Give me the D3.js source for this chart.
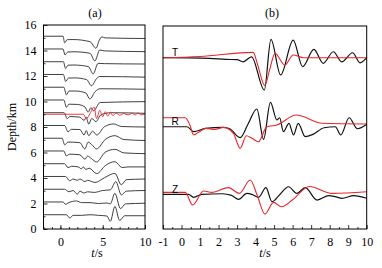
<!DOCTYPE html>
<html>
<head>
<meta charset="utf-8">
<script src="https://cdn.jsdelivr.net/npm/d3@7"></script>
<style>
  body { margin: 0; background: #fff; }
  svg { display: block; }
</style>
</head>
<body>
<script>
// sizes
const width = 382;
const height = 268;

// ---- panel (a) data: depth of each trace and [t, amplitude in km] samples
const depthsA = [1, 2, 3, 4, 5, 6, 7, 8, 9, 10, 11, 12, 13, 14, 15];
const trace01 = [[-2,0],[0.7,0],[1.1,-0.26],[1.5,-0.05],[2.5,-0.05],[3.5,0],[4.5,-0.05],[5.5,-0.1],[5.9,-0.52],[6.44,0.65],[7.0,-0.45],[7.6,-0.08],[10,-0.08]];
const trace02 = [[-2,0],[0.3,0],[0.6,-0.18],[1.0,-0.05],[1.9,0.08],[2.5,-0.05],[3.5,-0.05],[4.5,-0.12],[5.5,-0.08],[5.9,-0.15],[6.44,0.68],[7.1,-0.52],[7.7,-0.15],[10,-0.1]];
const trace03 = [[-2,0],[0.5,0],[1.0,-0.2],[1.5,-0.1],[2.0,-0.39],[2.3,-0.15],[2.8,-0.3],[3.2,-0.2],[4.0,-0.25],[5.0,-0.1],[5.9,-0.05],[6.55,0.6],[7.2,-0.45],[7.8,-0.15],[10,-0.1]];
const trace04 = [[-2,0],[0.6,0],[1.1,-0.34],[1.5,-0.2],[2.0,-0.3],[2.3,-0.2],[2.9,-0.4],[3.2,-0.3],[4.1,-0.47],[5.2,-0.1],[6.44,0.24],[7.2,-0.65],[7.8,-0.25],[10,-0.2]];
const trace05 = [[-2,0],[0.5,0],[0.9,-0.31],[1.3,-0.2],[2.1,-0.25],[2.5,-0.4],[2.7,-0.25],[3.0,-0.45],[3.4,-0.35],[4.3,-0.78],[5.3,-0.15],[6.44,0.16],[7.3,-0.3],[8,-0.25],[10,-0.25]];
const trace06 = [[-2,0],[0.4,0],[0.71,-0.39],[1.1,-0.25],[2.3,-0.3],[2.9,-0.65],[3.2,-0.4],[3.67,-0.6],[4.27,-0.86],[5.3,-0.1],[6.44,0.13],[7.5,-0.15],[10,-0.21]];
const trace07 = [[-2,0],[0.2,0],[0.5,-0.52],[0.9,-0.3],[2.3,-0.35],[2.88,-0.84],[3.28,-0.31],[3.7,-0.5],[4.27,-0.84],[5.3,-0.1],[6.44,0.2],[7.5,-0.1],[10,-0.18]];
const trace08 = [[-2,0],[0.5,0],[0.9,-0.5],[1.3,-0.3],[2.3,-0.32],[2.8,-0.75],[3.05,-0.4],[3.35,-0.8],[3.8,-0.45],[4.3,-0.75],[5.2,-0.1],[6.3,0.12],[7.2,-0.08],[10,-0.12]];
const trace09 = [[-2,0],[0.45,0],[0.8,-0.47],[1.1,-0.3],[2.3,-0.35],[2.8,-0.6],[3.05,-0.35],[3.35,-0.9],[3.7,-0.45],[4.2,-0.7],[4.8,-0.15],[6,0],[10,-0.05]];
const trace10 = [[-2,0],[0.4,0],[0.71,-0.57],[1.0,-0.33],[2.0,-0.35],[2.9,-0.55],[3.28,-0.96],[3.6,-0.6],[3.9,-0.85],[4.7,-0.2],[10,-0.13]];
const trace11 = [[-2,0],[0.4,0],[0.71,-0.6],[1.0,-0.3],[1.8,-0.3],[3.0,-0.45],[3.48,-0.92],[4.1,-0.35],[4.7,-0.12],[10,-0.16]];
const trace12 = [[-2,0],[0.35,0],[0.62,-0.55],[0.95,-0.28],[1.7,-0.27],[3.1,-0.4],[3.67,-0.89],[4.3,-0.3],[4.66,-0.16],[10,-0.21]];
const trace13 = [[-2,0],[0.35,0],[0.6,-0.52],[0.9,-0.27],[1.6,-0.26],[3.3,-0.38],[3.87,-0.96],[4.46,-0.13],[5.2,-0.15],[10,-0.18]];
const trace14 = [[-2,0],[0.3,0],[0.55,-0.47],[0.85,-0.24],[1.6,-0.22],[3.5,-0.34],[4.07,-0.94],[4.66,-0.08],[5.2,-0.15],[10,-0.21]];
const trace15 = [[-2,0],[0.3,0],[0.5,-0.51],[0.8,-0.27],[1.5,-0.26],[3.5,-0.43],[4.2,-0.94],[4.6,-0.31],[4.9,-0.05],[5.3,-0.13],[10,-0.18]];
const redDepth = 9;
const redTrace9 = [[-2,0],[2.7,0],[3.08,-0.34],[3.5,0.05],[3.99,0.57],[4.27,-0.34],[4.66,0.31],[5.0,-0.2],[5.3,0.2],[5.6,-0.15],[5.9,0.15],[6.2,-0.1],[6.6,0.08],[7.0,-0.08],[7.5,0.05],[8.0,-0.05],[8.5,0.08],[8.8,-0.06],[9.2,0.1],[9.5,-0.05],[10,0.02]];

// ---- panel (b) data: [t, value] for T, R, Z components
const tBlack = [[-1,13.5],[1.5,13.45],[2.4,13.37],[3.0,13.35],[3.33,13.18],[3.78,13.57],[4.47,10.95],[4.83,14.95],[5.35,12.14],[6.03,14.89],[6.54,12.79],[7.15,14.16],[7.65,13.06],[8.2,13.97],[8.65,13.18],[9.24,13.89],[9.64,13.1],[10,13.5]];
const tRed = [[-1,13.5],[1,13.6],[3.87,13.92],[4.1,13.0],[4.5,11.3],[4.75,12.5],[5.05,13.84],[5.58,12.92],[6.03,13.71],[6.6,13.5],[10,13.5]];
const rBlack = [[-1,8.06],[0.3,8.06],[0.65,7.67],[1.3,7.93],[2.2,8.01],[2.6,7.9],[3.17,7.2],[3.6,8.3],[4.07,9.46],[4.43,7.07],[4.8,9.98],[5.15,8.59],[5.3,8.77],[5.5,7.67],[5.8,8.33],[6.05,7.41],[6.3,8.33],[6.68,7.28],[7.1,7.46],[7.7,7.98],[8.3,8.06],[8.6,7.41],[9.05,8.77],[9.5,7.9],[10,8.25]];
const rRed = [[-1,8.77],[0.2,8.77],[0.45,8.2],[0.65,7.41],[0.95,7.65],[1.3,7.93],[1.8,7.85],[2.27,8.01],[2.8,7.54],[3.17,6.36],[3.5,7.35],[3.8,7.15],[4.16,6.88],[4.6,8.06],[5.15,8.2],[6.2,8.98],[7.6,8.33],[10,8.27]];
const zBlack = [[-1,2.73],[0.38,2.73],[0.65,2.5],[1.1,2.73],[2.2,2.78],[2.7,2.65],[3.08,2.34],[3.53,2.81],[3.85,2.7],[4.16,2.5],[4.56,3.26],[4.88,2.15],[5.3,2.7],[5.78,3.33],[6.23,2.81],[6.68,3.26],[7.32,2.28],[7.95,2.63],[8.3,2.55],[8.66,2.42],[9.3,2.63],[10,2.42]];
const zRed = [[-1,2.89],[0.2,2.89],[0.6,1.89],[1.19,2.99],[1.64,2.89],[2.54,3.26],[3.12,2.81],[3.71,3.86],[4.1,2.6],[4.5,1.18],[4.97,2.1],[5.4,1.75],[6.0,2.3],[6.9,3.35],[8.13,2.81],[10,2.94]];
const compLabels = ["T", "R", "Z"];
const compLabelPos = [[-0.35,13.63],[-0.35,8.2],[-0.35,2.84]];

// ticks
const xTicksA = [0, 5, 10];
const yTicksA = [0, 2, 4, 6, 8, 10, 12, 14, 16];
const xTicksB = [-1, 0, 1, 2, 3, 4, 5, 6, 7, 8, 9, 10];

const tracesA = [trace01, trace02, trace03, trace04, trace05, trace06, trace07, trace08,
                 trace09, trace10, trace11, trace12, trace13, trace14, trace15];

const redCol = "#e8262d";
const serif = "'Liberation Serif', 'DejaVu Serif', serif";
const plain = d => String(d);   // hyphen minus, as in the figure

const svg = d3.select("body").append("svg")
    .attr("width", width)
    .attr("height", height)
    .style("background", "#fff");

// scales
const xA = d3.scaleLinear().domain([-2, 10]).range([43.5, 145]);
const yA = d3.scaleLinear().domain([0, 16]).range([229, 25]);
const xB = d3.scaleLinear().domain([-1, 10]).range([163, 366.7]);
const yB = d3.scaleLinear().domain([0, 16]).range([229, 26]);

const styleAxis = g => {
    g.select(".domain").remove();
    g.selectAll("line").attr("stroke", "#000").attr("stroke-width", 0.8);
    g.selectAll("text").attr("font-family", serif).attr("font-size", 12).attr("fill", "#000");
};

// ---- panel (a)
const lineA = (offset) => d3.line()
    .x(d => xA(d[0]))
    .y(d => yA(offset + d[1]))
    .curve(d3.curveMonotoneX);

svg.append("g").selectAll("path")
    .data(tracesA)
    .join("path")
    .attr("d", (d, i) => lineA(depthsA[i] + 0.12)(d))
    .attr("fill", "none")
    .attr("stroke", "#2a2a2a")
    .attr("stroke-width", 0.9);

svg.append("path")
    .attr("d", lineA(redDepth)(redTrace9))
    .attr("fill", "none")
    .attr("stroke", redCol)
    .attr("stroke-width", 0.9);

// axes a
svg.append("g")
    .attr("transform", `translate(0,${yA(0)})`)
    .call(d3.axisBottom(xA).tickValues(d3.range(-2, 11)).tickSize(-2).tickFormat(""))
    .call(styleAxis);
svg.append("g")
    .attr("transform", `translate(0,${yA(0)})`)
    .call(d3.axisBottom(xA).tickValues(xTicksA).tickFormat(plain).tickSizeInner(-4).tickSizeOuter(0).tickPadding(8))
    .call(styleAxis);
svg.append("g")
    .attr("transform", `translate(${xA(-2)},0)`)
    .call(d3.axisLeft(yA).tickValues(d3.range(1, 16, 2)).tickSize(-2).tickFormat(""))
    .call(styleAxis);
svg.append("g")
    .attr("transform", `translate(${xA(-2)},0)`)
    .call(d3.axisLeft(yA).tickValues(yTicksA).tickFormat(plain).tickSizeInner(-4).tickSizeOuter(0).tickPadding(7))
    .call(styleAxis);

svg.append("rect")
    .attr("x", xA(-2)).attr("y", yA(16))
    .attr("width", xA(10) - xA(-2)).attr("height", yA(0) - yA(16))
    .attr("fill", "none").attr("stroke", "#000").attr("stroke-width", 1);

// ---- panel (b)
const lineB = d3.line()
    .x(d => xB(d[0]))
    .y(d => yB(d[1]))
    .curve(d3.curveMonotoneX);

const blackB = [tBlack, rBlack, zBlack];
const redB = [tRed, rRed, zRed];

svg.append("g").selectAll("path")
    .data(blackB)
    .join("path")
    .attr("d", lineB)
    .attr("fill", "none")
    .attr("stroke", "#111")
    .attr("stroke-width", 1.2);

svg.append("g").selectAll("path")
    .data(redB)
    .join("path")
    .attr("d", lineB)
    .attr("fill", "none")
    .attr("stroke", redCol)
    .attr("stroke-width", 1.1);

svg.append("g").selectAll("text")
    .data(compLabels)
    .join("text")
    .attr("x", (d, i) => xB(compLabelPos[i][0]))
    .attr("y", (d, i) => yB(compLabelPos[i][1]))
    .attr("text-anchor", "middle")
    .attr("font-family", "'Liberation Sans', Arial, sans-serif")
    .attr("font-size", 10)
    .text(d => d);

// axes b
svg.append("g")
    .attr("transform", `translate(0,${yB(0)})`)
    .call(d3.axisBottom(xB).tickValues(d3.range(-0.5, 10, 1)).tickSize(-2).tickFormat(""))
    .call(styleAxis);
svg.append("g")
    .attr("transform", `translate(0,${yB(0)})`)
    .call(d3.axisBottom(xB).tickValues(xTicksB).tickFormat(plain).tickSizeInner(-4).tickSizeOuter(0).tickPadding(8))
    .call(styleAxis);

svg.append("rect")
    .attr("x", xB(-1)).attr("y", yB(16))
    .attr("width", xB(10) - xB(-1)).attr("height", yB(0) - yB(16))
    .attr("fill", "none").attr("stroke", "#000").attr("stroke-width", 1);

// titles and labels
svg.append("text")
    .attr("x", 95).attr("y", 17)
    .attr("text-anchor", "middle")
    .attr("font-family", serif).attr("font-size", 12)
    .text("(a)");
svg.append("text")
    .attr("x", 272).attr("y", 17)
    .attr("text-anchor", "middle")
    .attr("font-family", serif).attr("font-size", 12)
    .text("(b)");

const tLabel = (x) => {
    const t = svg.append("text")
        .attr("x", x).attr("y", 257)
        .attr("text-anchor", "middle")
        .attr("font-family", serif).attr("font-size", 12);
    t.append("tspan").attr("font-style", "italic").text("t");
    t.append("tspan").text("/s");
};
tLabel(97);
tLabel(265);

svg.append("text")
    .attr("transform", "translate(16,127) rotate(-90)")
    .attr("text-anchor", "middle")
    .attr("font-family", serif).attr("font-size", 12)
    .text("Depth/km");
</script>
</body>
</html>
